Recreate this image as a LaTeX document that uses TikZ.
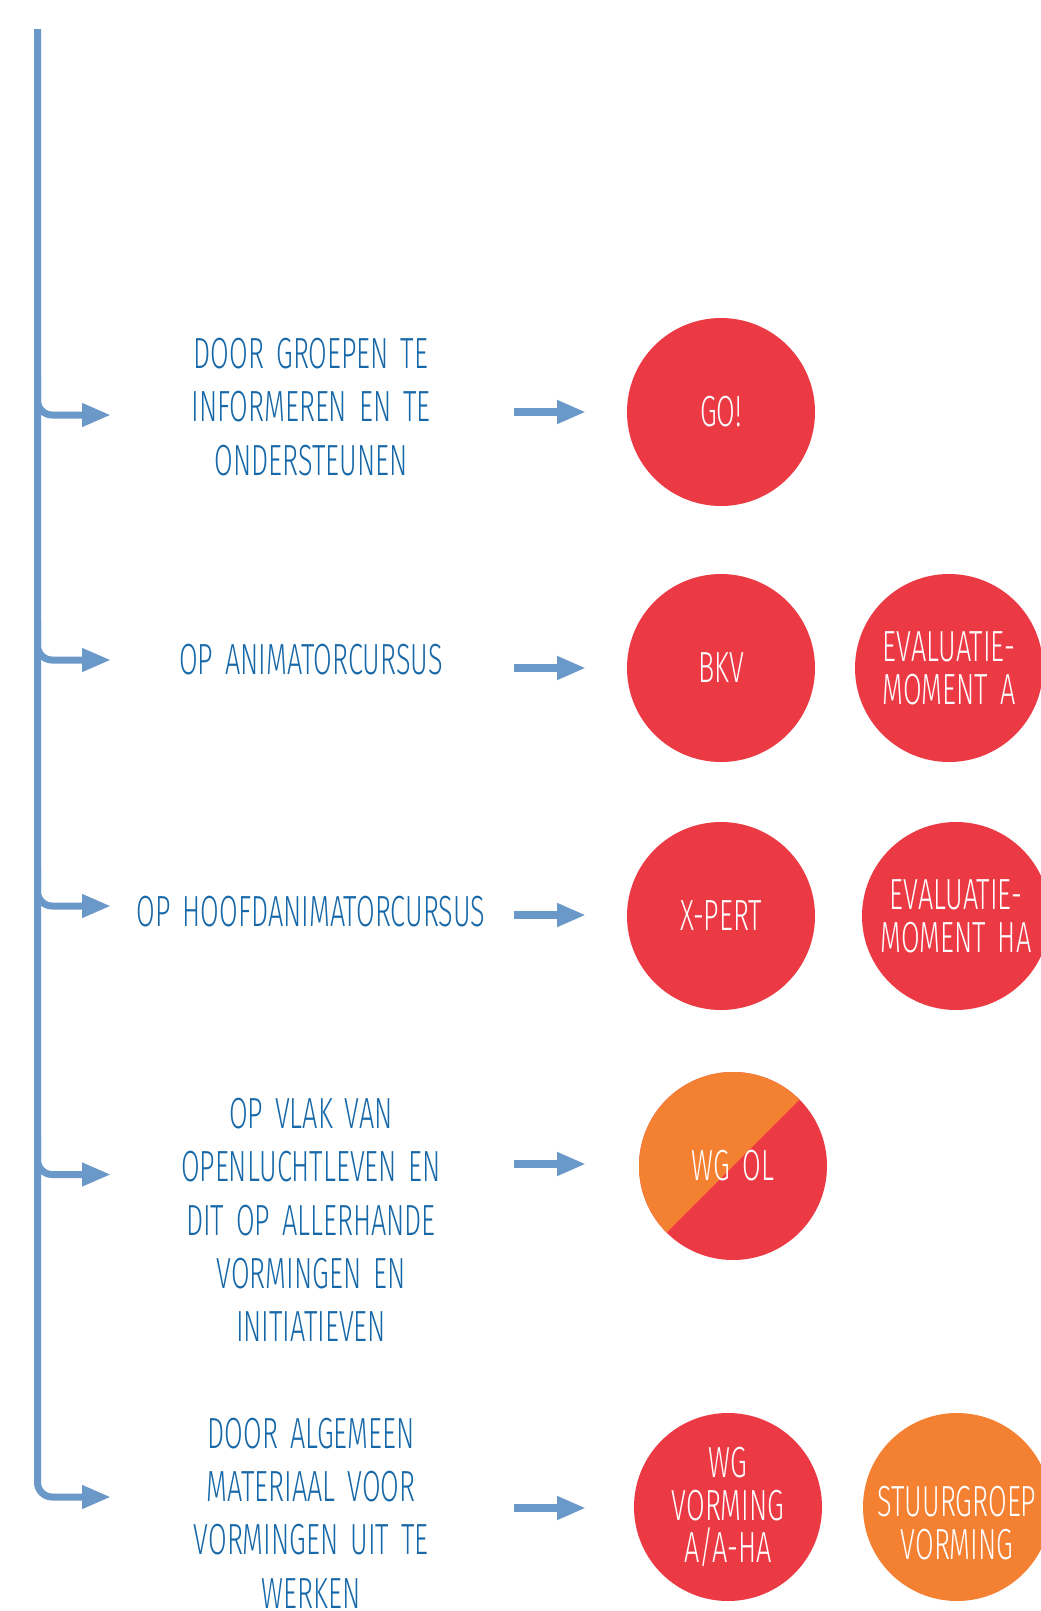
\documentclass[tikz,border=0pt]{standalone}
\usepackage{fontspec}
\newfontfamily\hand[FakeStretch=0.62,WordSpace=1.6]{Fira Sans Light}
\usetikzlibrary{arrows.meta}
\definecolor{trunk}{HTML}{6A98C9}
\definecolor{txtblue}{HTML}{1768A8}
\definecolor{cred}{HTML}{EC3A45}
\definecolor{corange}{HTML}{F48032}
\begin{document}
\begin{tikzpicture}[x=0.75pt,y=-0.75pt,
 lbl/.style={font=\hand\fontsize{32.7}{40}\selectfont, text=txtblue, align=center, inner sep=0},
 disc/.style={circle, fill=cred, minimum size=141pt, inner sep=0, text=white, align=center, font=\hand\fontsize{32.7}{32}\selectfont},
 odisc/.style={disc, fill=corange},
 tipshape/.style={-{Triangle[length=21.75pt,width=16.5pt]}},
 arr/.style={draw=trunk, line width=5.6pt, tipshape},
 branch/.style={draw=trunk, line width=5.25pt, rounded corners=11pt, tipshape},
]
\clip (0,0) rectangle (1041,1611);
\fill[white] (0,0) rectangle (1041,1611);

% trunk and branches
\coordinate (top) at (37.5,29);
\foreach \i/\y in {1/415,2/660,3/906,4/1174.5,5/1497}{
  \coordinate (j\i) at (37.5,\y);
  \coordinate (s\i) at (37.5,\y-40);
  \coordinate (b\i) at (111,\y);
}
\draw[branch] (top) -- (j5) -- (b5);
\foreach \i in {1,2,3,4}{\draw[branch] (s\i) -- (j\i) -- (b\i);}

% labels
\node[lbl] (t1) at (311,407) {DOOR GROEPEN TE\\INFORMEREN EN TE\\ONDERSTEUNEN};
\node[lbl] (t2) at (311,660) {OP ANIMATORCURSUS};
\node[lbl] (t3) at (311,912) {OP HOOFDANIMATORCURSUS};
\node[lbl] (t4) at (311,1220) {OP VLAK VAN\\OPENLUCHTLEVEN EN\\DIT OP ALLERHANDE\\VORMINGEN EN\\INITIATIEVEN};
\node[lbl] (t5) at (311,1513) {DOOR ALGEMEEN\\MATERIAAL VOOR\\VORMINGEN UIT TE\\WERKEN};

% middle arrows
\foreach \i/\y in {1/412,2/668,3/915,4/1164,5/1508}{
  \coordinate (m\i s) at (514,\y);
  \coordinate (m\i e) at (586,\y);
  \draw[arr] (m\i s) -- (m\i e);
}

% circles
\node[disc] (c1) at (721,412) {GO!};
\node[disc] (c2) at (721,668) {BKV};
\node[disc] (c3) at (949,668) {EVALUATIE-\\MOMENT A};
\node[disc] (c4) at (721,916) {X-PERT};
\node[disc] (c5) at (956,916) {EVALUATIE-\\MOMENT HA};
\node[disc, path picture={\fill[corange] (path picture bounding box.south west) -- (path picture bounding box.north west) -- (path picture bounding box.north east) -- cycle;}] (c6) at (733,1166) {WG OL};
\node[disc] (c7) at (728,1507) {WG\\VORMING\\A/A-HA};
\node[odisc] (c8) at (957,1507) {};
\node[text=white, align=center, inner sep=0, font=\hand\fontsize{32.7}{32}\selectfont] (c8t) at (957,1523) {STUURGROEP\\VORMING};
\end{tikzpicture}
\end{document}
